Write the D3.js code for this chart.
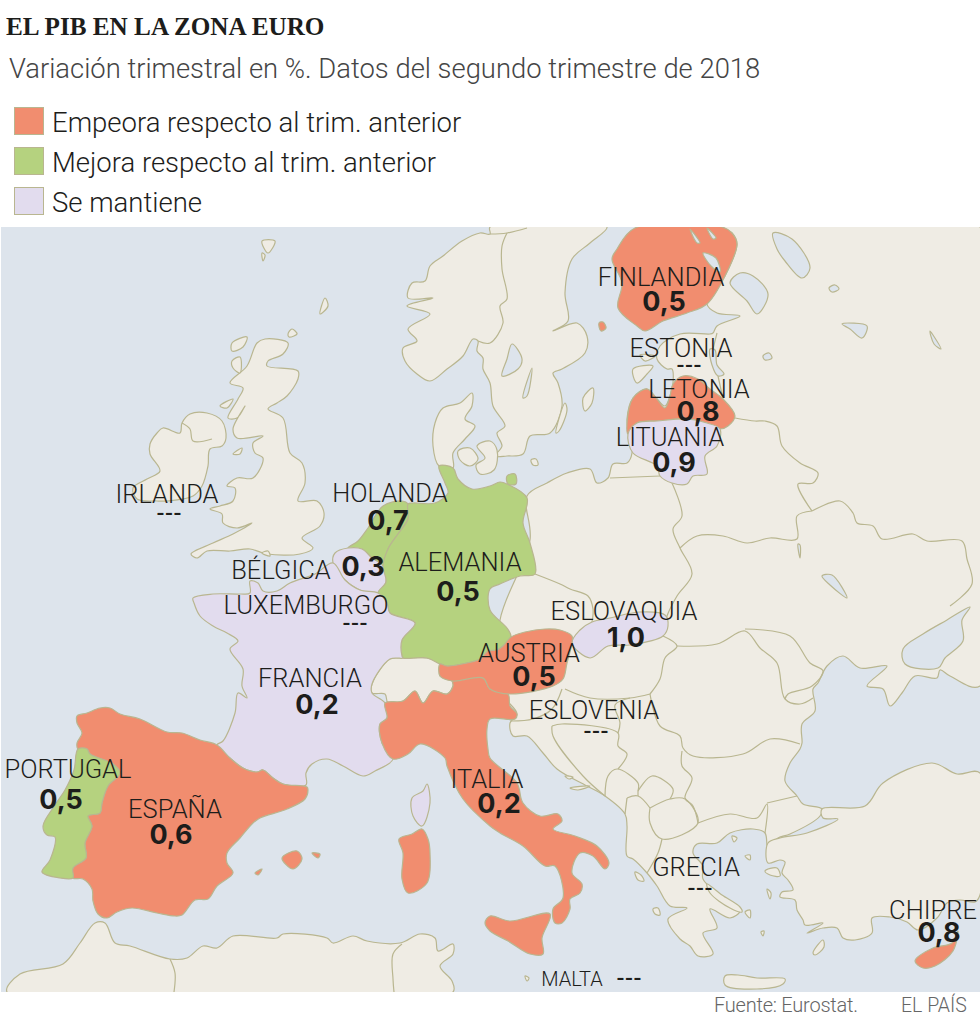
<!DOCTYPE html>
<html>
<head>
<meta charset="utf-8">
<script src="https://cdn.jsdelivr.net/npm/d3@7"></script>
<style>
  html, body { margin: 0; background: #fff; }
  svg { display: block; }
  text { font-family: Roboto, sans-serif; font-weight: 300; fill: #1d1d1b; }
  .value { font-family: Inter, sans-serif; font-weight: 700; font-size: 27px; text-anchor: middle; }
  .dashes { font-family: Inter, sans-serif; font-weight: 700; font-size: 18px; text-anchor: middle; }
  .name { font-size: 25.5px; text-anchor: middle; }
</style>
</head>
<body>
<svg id="chart" width="980" height="1026"></svg>
<script>
'use strict';

var title = 'EL PIB EN LA ZONA EURO';
var subtitle = 'Variación trimestral en %. Datos del segundo trimestre de 2018';
var source = 'Fuente: Eurostat.';
var brand = 'EL PAÍS';

var trends = ['Empeora respecto al trim. anterior', 'Mejora respecto al trim. anterior', 'Se mantiene'];
var trendColors = ['#f18d6f', '#b5d27f', '#e2dcee'];

// euro zone, same order in the three lists. null = no data, drawn as ---
var names = ['FINLANDIA', 'ESTONIA', 'LETONIA', 'LITUANIA', 'IRLANDA', 'HOLANDA', 'BÉLGICA', 'LUXEMBURGO', 'ALEMANIA', 'ESLOVAQUIA', 'AUSTRIA', 'FRANCIA', 'ESLOVENIA', 'PORTUGAL', 'ESPAÑA', 'ITALIA', 'GRECIA', 'CHIPRE', 'MALTA'];
var values = [0.5, null, 0.8, 0.9, null, 0.7, 0.3, null, 0.5, 1.0, 0.5, 0.2, null, 0.5, 0.6, 0.2, null, 0.8, null];

// outlines, in map units (pixels of the source map)
var finland = [[635,228],[617,249],[612,259],[622,283],[618,308],[637,326],[645,331],[663,321],[687,313],[707,304],[725,276],[737,244],[732,233],[722,227]];
var aland = [[599,323],[603,322],[606,328],[601,331]];
var latvia = [[628,434],[627,423],[633,398],[647,389],[657,399],[665,408],[670,396],[673,384],[683,376],[698,379],[710,389],[723,399],[735,416],[728,426],[720,429],[707,423],[687,419],[657,421],[637,423]];
var lithuania = [[628,434],[637,423],[657,421],[687,419],[707,423],[720,429],[717,446],[705,456],[707,474],[693,476],[687,484],[672,483],[660,476],[657,466],[633,453]];
var netherlands = [[348,548],[358,541],[368,528],[383,506],[402,501],[408,504],[408,519],[398,534],[388,549],[383,566],[372,558],[362,549]];
var belgium = [[333,563],[335,553],[348,548],[362,549],[372,558],[383,566],[386,582],[378,593],[360,590],[345,580]];
var germany = [[439,466],[453,468],[458,479],[472,489],[490,486],[500,482],[507,484],[527,498],[523,523],[530,543],[535,574],[520,576],[500,584],[490,589],[490,610],[507,628],[511,637],[503,646],[497,650],[490,651],[488,651],[480,659],[467,663],[447,666],[440,664],[427,658],[403,658],[402,656],[402,640],[415,623],[390,613],[387,603],[378,593],[386,582],[383,566],[388,549],[398,534],[408,519],[408,504],[413,503],[435,503],[448,493],[445,483]];
var rugen = [[507,476],[515,474],[516,484],[508,484]];
var slovakia = [[572,643],[580,630],[592,622],[610,618],[640,612],[665,615],[668,626],[663,636],[630,645],[608,646],[590,658]];
var austria = [[440,664],[447,666],[467,663],[480,659],[488,651],[497,650],[503,646],[511,637],[525,632],[545,629],[560,630],[572,636],[572,643],[567,663],[563,679],[553,686],[510,694],[490,689],[483,678],[453,681],[440,676]];
var france = [[193,598],[213,594],[240,594],[250,593],[250,581],[258,583],[263,591],[277,591],[290,583],[315,574],[333,563],[345,580],[360,590],[378,593],[387,603],[390,613],[415,623],[402,640],[402,656],[403,658],[390,659],[372,684],[372,693],[385,703],[387,718],[380,724],[382,743],[393,759],[375,771],[363,776],[343,766],[327,759],[312,764],[306,773],[306,785],[283,784],[273,778],[263,770],[257,772],[243,768],[230,758],[217,745],[223,741],[235,713],[238,693],[247,698],[242,686],[243,669],[230,649],[238,641],[227,633],[213,626],[200,616],[194,603]];
var corsica = [[427,784],[430,803],[422,826],[413,816],[412,798],[423,791]];
var spain = [[77,716],[87,713],[100,708],[110,708],[120,714],[140,719],[167,732],[182,733],[200,740],[217,745],[230,758],[243,768],[257,772],[263,770],[273,778],[283,784],[307,787],[308,790],[305,799],[287,809],[260,818],[253,823],[240,838],[227,853],[227,863],[233,873],[217,886],[208,899],[195,900],[182,915],[175,916],[157,913],[132,908],[117,912],[107,918],[98,914],[93,901],[92,889],[83,879],[73,878],[73,868],[86,858],[85,843],[92,826],[88,816],[100,813],[102,803],[108,786],[120,773],[113,764],[90,754],[87,749],[78,749],[77,743],[82,733],[77,723]];
var mallorca = [[282,858],[297,851],[302,859],[293,869]];
var menorca = [[312,853],[320,854],[318,858]];
var ibiza = [[255,873],[262,869],[258,875]];
var portugal = [[78,749],[87,749],[90,754],[113,764],[120,773],[108,786],[102,803],[100,813],[88,816],[92,826],[85,843],[86,858],[73,868],[73,878],[60,878],[42,872],[50,860],[55,837],[47,835],[43,826],[55,805],[65,790],[74,770]];
var italy = [[393,759],[382,743],[380,724],[387,718],[385,703],[403,701],[415,691],[423,703],[433,691],[447,694],[453,686],[453,681],[483,678],[490,689],[508,694],[510,706],[517,714],[515,719],[490,719],[487,729],[488,749],[490,758],[517,783],[523,803],[540,816],[558,814],[562,821],[553,829],[575,836],[597,846],[609,863],[605,869],[593,856],[580,853],[572,873],[582,884],[580,893],[570,899],[570,909],[562,923],[555,923],[553,909],[563,898],[555,866],[545,866],[523,846],[500,833],[490,826],[463,799],[447,766],[445,758],[420,744],[408,754]];
var sicily = [[490,916],[510,921],[550,914],[542,938],[543,954],[530,954],[508,941],[490,931],[485,923]];
var sardinia = [[422,829],[428,839],[430,853],[427,883],[408,893],[402,879],[403,853],[399,839],[412,834]];
var cyprus = [[915,961],[933,948],[952,943],[958,931],[953,951],[935,966],[923,968]];
var ireland = [[182,423],[190,414],[207,413],[222,421],[226,438],[222,446],[210,449],[208,466],[202,486],[193,496],[167,501],[157,501],[137,499],[133,488],[147,479],[160,471],[150,454],[150,444],[157,433],[163,428],[180,433]];
var malta = [[525,976],[529,978],[527,981]];

var britain = [[265,339],[288,343],[283,354],[268,361],[267,366],[298,371],[298,379],[287,396],[277,403],[268,409],[283,418],[290,453],[302,463],[305,483],[298,501],[317,501],[324,513],[320,526],[302,538],[313,548],[300,554],[267,554],[250,549],[230,551],[207,551],[197,558],[191,554],[213,543],[233,534],[252,523],[237,528],[223,523],[222,514],[210,509],[220,506],[233,501],[235,488],[227,486],[237,478],[253,478],[263,458],[255,453],[253,443],[263,436],[237,438],[233,429],[245,406],[237,418],[228,418],[238,399],[243,388],[230,383],[247,366],[257,343]];
var denmark = [[439,466],[433,446],[435,423],[443,408],[460,403],[472,393],[472,406],[465,419],[475,426],[465,439],[453,453],[453,468]];
var scandinavia = [[490,234],[480,233],[462,241],[443,256],[430,266],[425,281],[412,283],[408,298],[433,298],[407,306],[430,314],[408,329],[417,341],[403,348],[405,361],[417,374],[430,381],[447,369],[463,356],[473,339],[478,341],[477,351],[483,358],[483,369],[490,383],[493,406],[505,426],[497,433],[502,446],[495,456],[507,456],[523,454],[530,436],[550,433],[562,406],[558,383],[553,373],[562,369],[585,353],[587,336],[577,323],[553,331],[568,321],[565,293],[572,259],[590,243],[607,227],[490,227]];
var eastLand = [[527,496],[547,483],[567,473],[590,469],[597,483],[608,478],[613,464],[627,463],[632,453],[629,434],[627,419],[633,398],[647,389],[657,399],[665,406],[670,396],[673,383],[672,369],[667,369],[657,359],[660,346],[680,334],[710,334],[713,333],[717,326],[740,316],[717,313],[707,304],[725,276],[737,244],[732,233],[722,227],[980,227],[980,686],[950,676],[940,670],[937,678],[915,676],[902,693],[890,706],[883,689],[867,686],[887,666],[860,668],[843,656],[827,666],[818,683],[813,689],[815,711],[802,724],[802,743],[800,749],[790,763],[785,781],[797,796],[803,804],[822,809],[820,816],[790,834],[778,838],[768,849],[765,833],[753,829],[730,833],[717,843],[697,844],[693,853],[703,866],[703,879],[730,903],[740,911],[730,918],[710,909],[717,928],[703,933],[713,954],[698,956],[690,946],[680,939],[668,919],[687,908],[670,906],[657,886],[647,873],[633,859],[627,856],[627,826],[625,814],[605,796],[587,786],[557,769],[543,753],[527,736],[513,736],[510,723],[517,714],[500,690],[500,620],[530,540]];
var turkey = [[822,809],[865,806],[883,783],[932,763],[957,774],[980,773],[980,895],[975,902],[960,900],[947,903],[937,918],[918,930],[907,922],[890,917],[872,918],[872,933],[855,940],[843,938],[837,928],[823,928],[807,933],[823,923],[805,925],[803,920],[797,910],[795,900],[780,897],[782,892],[793,890],[788,880],[782,873],[785,862],[780,860],[768,863],[768,843],[780,838],[807,833],[838,819],[823,818]];
var morocco = [[7,992],[20,974],[63,964],[80,943],[95,923],[105,923],[115,943],[130,946],[170,959],[187,958],[203,946],[217,948],[233,936],[277,938],[283,934],[327,938],[333,943],[353,936],[367,941],[400,943],[420,934],[435,938],[438,951],[453,944],[453,954],[440,966],[452,981],[453,992]];
var switzerland = [[372,693],[372,684],[390,659],[403,658],[427,658],[440,664],[440,676],[452,681],[453,686],[447,694],[433,691],[423,703],[415,691],[403,701],[388,703],[385,694]];
var crete = [[725,976],[738,975],[757,978],[785,979],[783,984],[757,989],[725,985]];

var smallIslands = [
  [[458,451],[470,448],[478,459],[470,466],[460,460]], // Fionia
  [[477,446],[490,441],[497,450],[494,470],[480,474],[476,465],[485,458]], // Selandia
  [[233,454],[242,448],[240,454]], [[232,343],[247,337],[243,347],[232,351]], [[232,361],[240,357],[240,373],[233,368]],
  [[220,406],[233,399],[227,408]], [[288,334],[292,329],[297,334],[289,337]], [[320,314],[325,298],[328,306]],
  [[262,241],[275,241],[268,253]], [[262,253],[265,255],[263,261]], [[262,553],[268,551],[270,556]],
  [[593,388],[583,398],[585,411],[592,403]], [[565,403],[556,433],[559,431],[567,410]], [[531,460],[536,459],[538,465],[533,465]],
  [[633,369],[653,366],[647,374],[637,383]], [[640,355],[655,356],[645,361]],
  [[813,953],[823,940],[824,947],[815,955]], [[765,871],[777,868],[780,876],[770,875]], [[767,889],[771,893],[770,899]],
  [[732,836],[737,838],[734,842]], [[745,856],[750,855],[750,860]], [[707,884],[722,895],[740,907],[742,912],[730,908],[710,893]],
  [[635,872],[641,875],[644,881],[638,880]], [[653,909],[658,908],[660,915],[655,914]], [[761,932],[764,931],[763,936]],
  [[745,912],[750,910],[750,918]], [[565,776],[573,777],[569,779]], [[570,788],[590,786],[578,790]]
];

// lakes and seas painted back over the land
var waters = [
  [[730,283],[740,273],[753,276],[768,294],[757,314],[747,301]], // Ladoga
  [[773,233],[792,239],[810,268],[802,278],[785,261],[777,249]], // Onega
  [[829,288],[835,285],[839,289],[832,292]], [[842,324],[867,326],[862,338],[850,329]], [[930,331],[933,335],[941,349],[934,344]],
  [[710,349],[715,350],[717,365],[724,374],[718,376],[712,365]], // Peipus
  [[763,356],[769,353],[772,358],[765,360]], [[798,544],[800,545],[800,558]], [[822,576],[832,575],[847,598],[830,585]],
  [[903,649],[923,634],[947,620],[970,607],[962,620],[963,641],[945,658],[938,668],[905,664]], // Azov
  [[512,344],[522,359],[518,369],[502,376],[507,359]], [[532,368],[523,398],[527,396]]
];
var finnishLakes = [[[690,229],[700,243],[697,243]], [[707,228],[716,238],[713,239]], [[703,253],[716,258],[720,272],[711,266]]];

// land borders, drawn as open lines
var borders = [
  [[535,574],[560,584],[570,589],[588,596],[593,609],[592,622]],
  [[672,483],[682,516],[673,529],[680,548],[692,574],[677,596],[667,616],[665,626]],
  [[660,476],[610,478]],
  [[680,548],[697,536],[723,536],[747,543],[770,538],[797,539],[797,516],[812,511]],
  [[735,418],[755,421],[765,421],[777,426],[782,446],[800,463],[818,473],[813,483],[798,484],[812,511]],
  [[812,511],[840,501],[853,513],[857,523],[873,526],[882,539],[913,534],[927,541],[962,541],[967,559],[972,584],[950,606]],
  [[663,636],[677,646],[665,658],[660,679],[650,694]],
  [[565,689],[590,698],[630,698],[650,694]],
  [[677,646],[717,644],[745,631],[760,648],[777,663],[785,699],[800,704],[813,698]],
  [[745,629],[790,636],[810,663],[823,671],[812,686],[788,694],[785,699]],
  [[650,694],[660,726],[680,736],[683,748],[693,756],[743,754],[770,739],[800,744]],
  [[682,751],[682,766],[692,778],[685,798],[693,806],[698,823]],
  [[698,823],[730,814],[757,818],[767,804],[765,833]],
  [[767,803],[797,796]],
  [[650,808],[670,799],[685,799],[698,823],[662,839],[650,823],[650,808]],
  [[627,798],[638,796],[650,808]], [[662,839],[658,853],[647,873]], [[627,798],[625,814]],
  [[638,791],[652,776],[673,789],[670,799]], [[638,791],[638,796]],
  [[605,796],[608,776],[617,769],[638,783],[638,791]],
  [[552,726],[562,724],[618,733],[618,746],[627,754],[618,769]],
  [[552,726],[553,736],[583,776],[605,796]],
  [[618,733],[620,723],[615,705],[630,698]],
  [[510,721],[533,719],[552,709],[562,689]],
  [[717,333],[713,349]], [[718,376],[723,399]],
  [[170,959],[175,973],[174,992]], [[402,944],[393,954],[393,979],[394,992]],
  [[182,423],[190,429],[193,441],[212,439]],
  [[490,234],[507,233],[527,228]], [[507,233],[502,246],[502,269],[507,299],[500,306],[503,323],[490,343],[478,341]]
];

var euroShapes = [
  {name: 'FINLANDIA', rings: [finland, aland]},
  {name: 'LETONIA', rings: [latvia]},
  {name: 'LITUANIA', rings: [lithuania]},
  {name: 'HOLANDA', rings: [netherlands]},
  {name: 'BÉLGICA', rings: [belgium]},
  {name: 'ALEMANIA', rings: [germany, rugen]},
  {name: 'ESLOVAQUIA', rings: [slovakia]},
  {name: 'FRANCIA', rings: [france, corsica]},
  {name: 'ESPAÑA', rings: [spain, mallorca, menorca, ibiza]},
  {name: 'PORTUGAL', rings: [portugal]},
  {name: 'ITALIA', rings: [italy, sicily, sardinia]},
  {name: 'AUSTRIA', rings: [austria]},
  {name: 'CHIPRE', rings: [cyprus]}
];
// trend index per drawn country: 0 worse, 1 better, 2 same
var shapeTrend = [0, 0, 2, 1, 2, 1, 2, 2, 0, 1, 0, 0, 0];
var landShapes = [eastLand, scandinavia, denmark, britain, ireland, turkey, morocco, switzerland, crete, malta];

// label placement: centre x and baselines of name and value
var labelLayout = {
  'FINLANDIA': [661, 286, 664, 311], 'ESTONIA': [681, 357, 689, 371], 'LETONIA': [699, 398, 698, 421],
  'LITUANIA': [670, 446, 674, 472], 'IRLANDA': [167, 503, 169, 519], 'HOLANDA': [390, 502, 388, 530],
  'BÉLGICA': [281, 579, 363, 576], 'LUXEMBURGO': [306, 614, 355, 629], 'ALEMANIA': [460, 571, 458, 601],
  'ESLOVAQUIA': [624, 620, 626, 647], 'AUSTRIA': [529, 662, 534, 686], 'FRANCIA': [310, 687, 317, 714],
  'ESLOVENIA': [594, 719, 596, 737], 'PORTUGAL': [68, 778, 61, 809], 'ESPAÑA': [175, 818, 171, 844],
  'ITALIA': [487, 788, 499, 813], 'GRECIA': [696, 876, 700, 894], 'CHIPRE': [933, 919, 939, 942],
  'MALTA': [572, 986, 629, 984]
};

var svg = d3.select('#chart');
var x = d3.scaleLinear().domain([0, 980]).range([0, 980]);
var y = d3.scaleLinear().domain([227, 992]).range([227, 992]);
var trendColor = d3.scaleOrdinal().domain([0, 1, 2]).range(trendColors);
var line = d3.line().x(function (d) { return x(d[0]); }).y(function (d) { return y(d[1]); })
  .curve(d3.curveCatmullRom.alpha(0.5));
var closedLine = d3.line().x(function (d) { return x(d[0]); }).y(function (d) { return y(d[1]); })
  .curve(d3.curveCatmullRomClosed.alpha(0.5));

var LAND = '#efece4';
var SEA = '#dde4ec';
var COAST = '#b9b690';

// header
svg.append('text').attr('x', 6).attr('y', 35).text(title)
  .style('font-family', '"Liberation Serif", serif').style('font-weight', 700).style('font-size', '25.2px');
svg.append('text').attr('x', 9).attr('y', 78).text(subtitle)
  .style('font-size', '27.4px').style('fill', '#454545');

var legend = svg.selectAll('.legend').data(trends).enter().append('g')
  .attr('class', 'legend')
  .attr('transform', function (d, i) { return 'translate(0,' + (107 + i * 40) + ')'; });
legend.append('rect').attr('x', 14.5).attr('y', 0.5).attr('width', 29).attr('height', 27)
  .attr('fill', function (d, i) { return trendColor(i); }).attr('stroke', COAST);
legend.append('text').attr('x', 52).attr('y', 25).text(function (d) { return d; })
  .style('font-size', '27.5px');

// map
svg.append('clipPath').attr('id', 'mapClip').append('rect')
  .attr('x', 1).attr('y', 227).attr('width', 979).attr('height', 765);
var map = svg.append('g').attr('clip-path', 'url(#mapClip)');
map.append('rect').attr('x', 1).attr('y', 227).attr('width', 979).attr('height', 765).attr('fill', SEA);

function paint(rings, fill) {
  map.append('g').selectAll('path').data(rings).enter().append('path')
    .attr('d', closedLine).attr('fill', fill).attr('stroke', COAST)
    .attr('stroke-width', 1.2).attr('stroke-linejoin', 'round');
}

paint(landShapes, LAND);
paint(smallIslands, LAND);
paint(waters, SEA);
map.append('g').selectAll('path').data(borders).enter().append('path')
  .attr('d', line).attr('fill', 'none').attr('stroke', COAST).attr('stroke-width', 1.2);
euroShapes.forEach(function (shape, i) {
  paint(shape.rings, trendColor(shapeTrend[i]));
});
paint(finnishLakes, SEA);

// labels
names.forEach(function (name, i) {
  var pos = labelLayout[name];
  var empty = values[i] === null;
  svg.append('text').attr('class', 'name').attr('x', pos[0]).attr('y', pos[1]).text(name)
    .style('font-size', name === 'MALTA' ? '20px' : null);
  svg.append('text').attr('class', empty ? 'dashes' : 'value').attr('x', pos[2]).attr('y', pos[3])
    .text(empty ? '---' : d3.format('.1f')(values[i]).replace('.', ','));
});

// footer
svg.append('text').attr('x', 714).attr('y', 1012).text(source)
  .attr('textLength', 144).attr('lengthAdjust', 'spacing')
  .style('font-size', '20px').style('fill', '#666');
svg.append('text').attr('x', 901).attr('y', 1012).text(brand).style('font-size', '19.5px').style('fill', '#666');
</script>
</body>
</html>
